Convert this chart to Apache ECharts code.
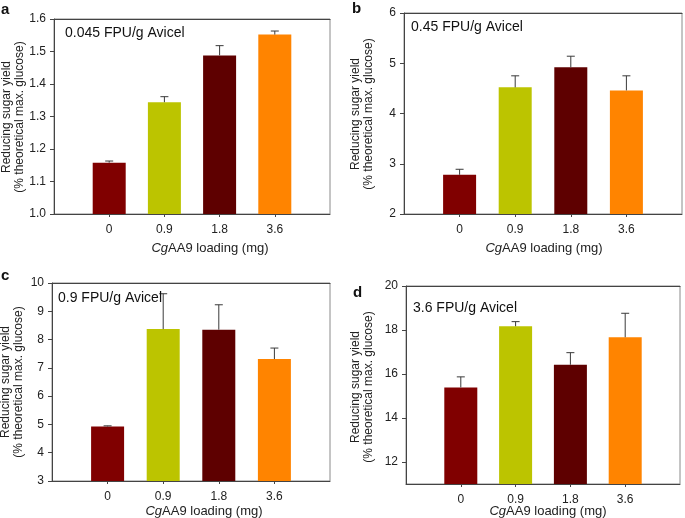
<!DOCTYPE html>
<html>
<head>
<meta charset="utf-8">
<script src="https://cdn.jsdelivr.net/npm/echarts@6/dist/echarts.min.js"></script>
<style>html,body{margin:0;padding:0;background:#fff}#c{width:685px;height:518px}</style>
</head>
<body>
<div id="c"></div>
<script>
// ---- data ----
var categories = ['0', '0.9', '1.8', '3.6'];
var panelLetters = ['a', 'b', 'c', 'd'];
var panelNotes = ['0.045 FPU/g Avicel', '0.45 FPU/g Avicel', '0.9 FPU/g Avicel', '3.6 FPU/g Avicel'];
var valuesA = [1.158, 1.344, 1.488, 1.552];
var errorsA = [0.005, 0.017, 0.03, 0.011];
var valuesB = [2.78, 4.52, 4.92, 4.46];
var errorsB = [0.11, 0.23, 0.22, 0.29];
var valuesC = [4.93, 8.37, 8.35, 7.31];
var errorsC = [0.02, 1.25, 0.88, 0.39];
var valuesD = [15.39, 18.17, 16.42, 17.67];
var errorsD = [0.48, 0.21, 0.55, 1.09];
var yTicksA = [1.0, 1.1, 1.2, 1.3, 1.4, 1.5, 1.6];
var yTicksB = [2, 3, 4, 5, 6];
var yTicksC = [3, 4, 5, 6, 7, 8, 9, 10];
var yTicksD = [12, 14, 16, 18, 20];
var yTitle = 'Reducing sugar yield\n(% theoretical max. glucose)';

// ---- styles / layout ----
var barColors = ['#800000', '#bcc400', '#5e0000', '#ff8400'];
var FONT = 'Liberation Sans, Arial, sans-serif';
var grids = [
  {left: 54, top: 19, width: 276, height: 195},
  {left: 404, top: 13, width: 278, height: 201},
  {left: 52, top: 283, width: 278, height: 198},
  {left: 406, top: 286, width: 274, height: 198}
];
var yRanges = [
  {min: 1.0, max: 1.6, ticks: yTicksA, dec: 1},
  {min: 2, max: 6, ticks: yTicksB, dec: 0},
  {min: 3, max: 10, ticks: yTicksC, dec: 0},
  {min: 11, max: 20, ticks: yTicksD, dec: 0}
];
var panelValues = [valuesA, valuesB, valuesC, valuesD];
var panelErrors = [errorsA, errorsB, errorsC, errorsD];
var letterPos = [[1, 2], [352, 1], [1, 268], [353, 285]];
var notePos = [[65, 33], [411, 27], [58, 298], [413, 308]];
var yTitlePos = [[13, 117], [362, 114], [12, 382], [362, 387]];
var xTitlePos = [[210, 248], [544, 248], [204, 511], [548, 511]];

var catAxisData = [''].concat(categories).concat(['']);

var option = {
  animation: false,
  backgroundColor: '#fff',
  grid: [], xAxis: [], yAxis: [], series: [], graphic: []
};

for (var p = 0; p < 4; p++) {
  var g = grids[p];
  option.grid.push({left: g.left, top: g.top, width: g.width, height: g.height,
    show: true, borderColor: '#8a8a8a', borderWidth: 1, backgroundColor: 'transparent'});
  option.xAxis.push({
    type: 'category', gridIndex: p, data: catAxisData, boundaryGap: false,
    axisLine: {lineStyle: {color: '#444', width: 1}},
    axisTick: {show: true, length: 3, lineStyle: {color: '#444'},
      interval: function (i) { return i >= 1 && i <= 4; }},
    axisLabel: {color: '#222', fontSize: 12, fontFamily: FONT, margin: 10, interval: 0},
    splitLine: {show: false}
  });
  // a second x axis on top gives the darker upper frame line
  option.xAxis.push({
    type: 'category', gridIndex: p, position: 'top', data: catAxisData, boundaryGap: false,
    axisLine: {lineStyle: {color: '#444', width: 1}},
    axisTick: {show: false}, axisLabel: {show: false}, splitLine: {show: false}
  });
  var yr = yRanges[p];
  (function (yr) {
    option.yAxis.push({
      type: 'value', gridIndex: p, min: yr.min, max: yr.max,
      axisLine: {show: true, lineStyle: {color: '#444', width: 1}},
      axisTick: {show: true, length: 4, lineStyle: {color: '#444'}, customValues: yr.ticks},
      axisLabel: {color: '#222', fontSize: 12, fontFamily: FONT, margin: 8, customValues: yr.ticks,
        formatter: function (v) { return Number(v).toFixed(yr.dec); }},
      splitLine: {show: false}
    });
  })(yr);
  var vals = panelValues[p], errs = panelErrors[p];
  var barData = [null];
  var errData = [];
  for (var i = 0; i < vals.length; i++) {
    barData.push({value: vals[i], itemStyle: {color: barColors[i]}});
    errData.push([i + 1, vals[i], errs[i]]);
  }
  barData.push(null);
  option.series.push({
    type: 'bar', xAxisIndex: p * 2, yAxisIndex: p, data: barData, barWidth: 33, z: 2
  });
  option.series.push({
    type: 'custom', xAxisIndex: p * 2, yAxisIndex: p, data: errData, z: 3,
    encode: {x: 0, y: 1},
    renderItem: function (params, api) {
      var x = api.value(0), v = api.value(1), e = api.value(2);
      var p0 = api.coord([x, v]);
      var p1 = api.coord([x, v + e]);
      var hw = 4;
      var st = {stroke: '#3a3a3a', lineWidth: 1};
      return {type: 'group', children: [
        {type: 'line', shape: {x1: p0[0], y1: p0[1], x2: p1[0], y2: p1[1]}, style: st},
        {type: 'line', shape: {x1: p1[0] - hw, y1: p1[1], x2: p1[0] + hw, y2: p1[1]}, style: st}
      ]};
    }
  });
  option.graphic.push({type: 'text', left: letterPos[p][0], top: letterPos[p][1],
    style: {text: panelLetters[p], font: 'bold 15px ' + FONT, fill: '#111'}});
  option.graphic.push({type: 'text', x: notePos[p][0], y: notePos[p][1],
    style: {text: panelNotes[p], font: '14px ' + FONT, fill: '#111', verticalAlign: 'middle', textAlign: 'left'}, z: 10});
  option.graphic.push({type: 'text', x: yTitlePos[p][0], y: yTitlePos[p][1], rotation: Math.PI / 2,
    style: {text: yTitle, font: '12px ' + FONT, fill: '#222', textAlign: 'center', verticalAlign: 'middle', lineHeight: 13}});
  option.graphic.push({type: 'text', x: xTitlePos[p][0], y: xTitlePos[p][1],
    style: {text: '{i|Cg}{n|AA9 loading (mg)}', textAlign: 'center', verticalAlign: 'middle',
      rich: {i: {font: 'italic 13px ' + FONT, fill: '#222'}, n: {font: '13px ' + FONT, fill: '#222'}}}});
}

var chart = echarts.init(document.getElementById('c'), null, {renderer: 'canvas'});
chart.setOption(option);
</script>
</body>
</html>
